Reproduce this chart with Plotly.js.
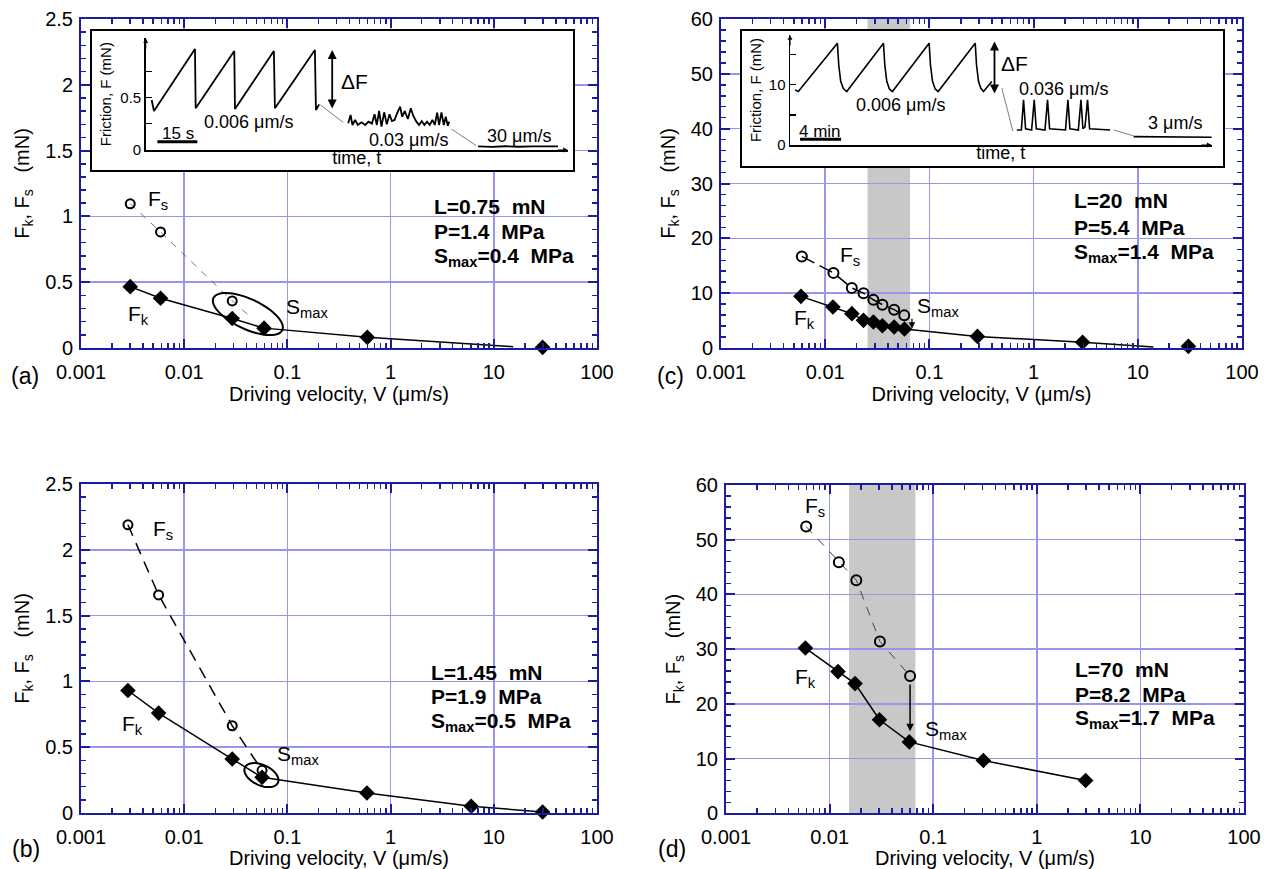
<!DOCTYPE html>
<html><head><meta charset="utf-8">
<script src="https://cdn.plot.ly/plotly-3.0.1.min.js"></script>
<style>html,body{margin:0;padding:0;background:#fff}#chart{width:1279px;height:869px}</style>
</head><body><div id="chart"></div>
<script>
// ================= DATA =================
// x tick labels
const xTickVals = [0.001, 0.01, 0.1, 1, 10, 100];
const xTickText = ['0.001', '0.01', '0.1', '1', '10', '100'];

// Panel (a)  L=0.75 mN
const aV_k = [0.003, 0.0059, 0.0292, 0.0594, 0.595, 29.7];
const aF_k = [0.466, 0.378, 0.224, 0.151, 0.081, 0.005];
const aLineV_k = [0.003, 0.0059, 0.0292, 0.0594, 0.595, 15.4];
const aLineF_k = [0.466, 0.378, 0.224, 0.151, 0.081, 0.01];
const aV_s = [0.003, 0.0059, 0.0292];
const aF_s = [1.096, 0.882, 0.358];
const aLineV_s = [0.003, 0.0059, 0.0292, 0.041];
const aLineF_s = [1.096, 0.882, 0.358, 0.257];

// Panel (b)  L=1.45 mN
const bV_k = [0.00285, 0.00565, 0.0292, 0.0568, 0.59, 6.04, 29.7];
const bF_k = [0.931, 0.759, 0.41, 0.271, 0.152, 0.051, 0.008];
const bV_s = [0.00285, 0.00565, 0.0292, 0.0568];
const bF_s = [2.19, 1.657, 0.663, 0.324];

// Panel (c)  L=20 mN
const cV_k = [0.00585, 0.01187, 0.01803, 0.0233, 0.029, 0.0354, 0.0459, 0.0576, 0.289, 2.95, 30.6];
const cF_k = [9.42, 7.48, 6.26, 5.04, 4.74, 4.07, 3.83, 3.47, 2.12, 1.04, 0.3];
const cLineV_k = [0.00585, 0.01187, 0.01803, 0.0233, 0.029, 0.0354, 0.0459, 0.0576, 0.289, 2.95, 14.1];
const cLineF_k = [9.42, 7.48, 6.26, 5.04, 4.74, 4.07, 3.83, 3.47, 2.12, 1.04, 0.2];
const cV_s = [0.00597, 0.012, 0.018, 0.0233, 0.029, 0.0354, 0.0459, 0.0574];
const cF_s = [16.7, 13.7, 10.95, 10.0, 8.8, 7.9, 6.99, 5.95];
const cBand = [0.0255, 0.0653];
const cArrowV = 0.068, cArrowFrom = 5.6, cArrowTo = 3.5;

// Panel (d)  L=70 mN
const dV_k = [0.00584, 0.01205, 0.0176, 0.0303, 0.0588, 0.305, 2.96];
const dF_k = [30.2, 25.9, 23.7, 17.1, 13.05, 9.65, 6.0];
const dV_s = [0.00594, 0.01228, 0.0181, 0.0306, 0.0598];
const dF_s = [52.4, 45.9, 42.6, 31.4, 25.1];
const dBand = [0.0154, 0.0673];
const dArrowV = 0.0598, dArrowFrom = 23.8, dArrowTo = 15.0;

// Parameter text per panel: [L, P, Smax]
const paramL = ['0.75', '1.45', '20', '70'];
const paramP = ['1.4', '1.9', '5.4', '8.2'];
const paramS = ['0.4', '0.5', '1.4', '1.7'];

// Inset of (a): friction trace, time in s, F in mN
const insAT = [2.25, 3.1, 18.5, 18.75, 33.25, 33.5, 48.1, 48.5, 63.5, 63.9, 65.1, null,
  76.0, 76.9, 77.6, 78.6, 79.6, 81.0, 82.4, 83.6, 84.9, 85.9, 86.75, 87.6, 88.5, 89.5, 90.5, 91.5, 92.4, 93.4,
  94.5, 95.5, 96.25, 97.25, 98.4, 99.5, 100.4, 101.6, 102.6, 103.6, 104.6, 105.6, 106.6, 107.6, 108.5, 109.4,
  110.1, 111.0, 111.9, 112.6, 113.4, 113.9, null,
  124.75, 130, 135, 140, 145, 150, 154.75];
const insAF = [0.478, 0.373, 0.965, 0.398, 0.946, 0.392, 0.946, 0.398, 0.955, 0.382, 0.436, null,
  0.255, 0.334, 0.239, 0.287, 0.239, 0.264, 0.239, 0.271, 0.252, 0.341, 0.239, 0.373, 0.223, 0.360, 0.245, 0.341, 0.277, 0.287,
  0.360, 0.414, 0.318, 0.373, 0.296, 0.398, 0.328, 0.271, 0.239, 0.277, 0.239, 0.271, 0.239, 0.287, 0.239, 0.357,
  0.239, 0.360, 0.239, 0.318, 0.232, 0.271, null,
  0.035, 0.030, 0.036, 0.031, 0.035, 0.032, 0.034];
const insALinkT = [65.6, 74.1, null, 114.75, 124.1];
const insALinkF = [0.43, 0.264, null, 0.20, 0.041];

// Inset of (c): friction trace, time in min, F in mN
const insCT = [0.49, 0.81, 4.62, 4.75, 4.94, 5.2, 5.53, 9.11, 9.24, 9.43, 9.69, 9.98, 13.56, 13.69, 13.89, 14.15, 14.44,
  18.05, 18.18, 18.37, 18.6, 18.86, 19.67, null,
  22.11, 22.55, 22.76, 22.96, 23.55, 23.8, 24.0, 24.85, 25.1, 25.3, 26.85, 27.09, 27.28, 28.1, 28.36, 28.55, 28.75, 29.0, 29.2, 29.9, 31.2, null,
  33.5, 36, 38, 40, 41.3];
const insCF = [9.17, 8.89, 16.94, 13.3, 10.6, 9.4, 8.89, 16.94, 13.3, 10.6, 9.33, 8.89, 16.94, 13.3, 10.6, 9.33, 8.89,
  16.94, 13.3, 10.6, 9.44, 8.89, 10.56, null,
  2.5, 2.5, 7.5, 2.7, 2.5, 7.5, 2.7, 2.5, 7.5, 2.7, 2.5, 7.5, 2.7, 2.5, 7.5, 2.7, 3.0, 7.5, 2.7, 2.6, 2.5, null,
  1.39, 1.35, 1.33, 1.30, 1.28];
const insCLinkT = [20.65, 21.72, null, 31.54, 33.5];
const insCLinkF = [9.44, 2.33, null, 2.5, 1.5];

// ================= STYLE / LAYOUT =================
const W = 1279, H = 869;
const FONT = 'Liberation Sans, Arial, Helvetica, sans-serif';
const GRID = 'rgb(150,150,236)';
const FRAME = 'rgb(28,28,160)';
const dx = (l, r) => [l / W, r / W];
const dy = (t, b) => [1 - b / H, 1 - t / H];

const minorVals = [];
for (let e = -3; e < 2; e++) for (let k = 2; k <= 9; k++) minorVals.push(k * Math.pow(10, e));

function xLog(domain, anchor) {
  return {
    type: 'log', domain, anchor, range: [-3, 2], tickmode: 'array', tickvals: xTickVals, ticktext: xTickText,
    ticks: 'inside', ticklen: 9, tickwidth: 2, tickcolor: FRAME,
    showline: true, linecolor: FRAME, linewidth: 2, mirror: 'ticks',
    showgrid: true, gridcolor: GRID, gridwidth: 1.5, zeroline: false,
    tickfont: { family: FONT, size: 20, color: '#000' }, ticklabelstandoff: 5,
    minor: { tickmode: 'array', tickvals: minorVals, ticks: 'inside', ticklen: 5, tickwidth: 1.5, tickcolor: FRAME, showgrid: false },
    title: { text: 'Driving velocity, V (\u03bcm/s)', font: { family: FONT, size: 20, color: '#000' }, standoff: 3 }
  };
}
function yLin(domain, anchor, max, dt, mdt) {
  return {
    domain, anchor, range: [0, max], tick0: 0, dtick: dt,
    ticks: 'inside', ticklen: 9, tickwidth: 2, tickcolor: FRAME,
    showline: true, linecolor: FRAME, linewidth: 2, mirror: 'ticks',
    showgrid: true, gridcolor: GRID, gridwidth: 1.5, zeroline: false,
    tickfont: { family: FONT, size: 20, color: '#000' }, ticklabelstandoff: 2,
    minor: { dtick: mdt, tick0: 0, ticks: 'inside', ticklen: 5, tickwidth: 1.5, tickcolor: FRAME, showgrid: false },
    title: { text: 'F<sub>k</sub>, F<sub>s</sub>\u00a0\u00a0 (mN)', font: { family: FONT, size: 20, color: '#000' }, standoff: 10 }
  };
}
function frameAx(domain, anchor) {
  return { domain, anchor, range: [0, 1], showline: true, mirror: true, linecolor: '#000', linewidth: 2,
    showgrid: false, zeroline: false, ticks: '', showticklabels: false, fixedrange: true };
}

const layout = {
  width: W, height: H, margin: { l: 0, r: 0, t: 0, b: 0 },
  paper_bgcolor: '#fff', plot_bgcolor: '#fff', showlegend: false,
  font: { family: FONT, color: '#000' },
  xaxis: xLog(dx(81, 597), 'y'), yaxis: yLin(dy(19, 348), 'x', 2.5, 0.5, 0.1),
  xaxis2: xLog(dx(81, 597), 'y2'), yaxis2: yLin(dy(484, 813), 'x2', 2.5, 0.5, 0.1),
  xaxis3: xLog(dx(721, 1242), 'y3'), yaxis3: yLin(dy(19, 348), 'x3', 60, 10, 2),
  xaxis4: xLog(dx(726, 1244), 'y4'), yaxis4: yLin(dy(485, 813.3), 'x4', 60, 10, 2),
  // inset (a) frame + axes
  xaxis5: frameAx(dx(91.7, 573), 'y5'), yaxis5: frameAx(dy(31, 170), 'x5'),
  xaxis6: {
    domain: dx(145.7, 568), anchor: 'y6', range: [0, 158.5], showline: true, linecolor: '#000', linewidth: 1.5,
    showgrid: false, zeroline: false, ticks: '', showticklabels: false,
    title: { text: 'time, t', font: { family: FONT, size: 18, color: '#000' }, standoff: 1 }
  },
  yaxis6: {
    domain: dy(38.3, 150), anchor: 'x6', range: [0, 1.067], showline: true, linecolor: '#000', linewidth: 1.5,
    showgrid: false, zeroline: false, ticks: 'inside', ticklen: 6, tickwidth: 1.2, tickcolor: '#000',
    tickmode: 'array', tickvals: [0, 0.25, 0.5, 0.75], ticktext: ['0', '', '0.5', ''],
    tickfont: { family: FONT, size: 15, color: '#000' },
    title: { text: 'Friction, F (mN)', font: { family: FONT, size: 15, color: '#000' }, standoff: 5 }
  },
  // inset (c) frame + axes
  xaxis7: frameAx(dx(741.7, 1222.7), 'y7'), yaxis7: frameAx(dy(31, 166), 'x7'),
  xaxis8: {
    domain: dx(790, 1211.7), anchor: 'y8', range: [0, 41.1], showline: true, linecolor: '#000', linewidth: 1.5,
    showgrid: false, zeroline: false, ticks: '', showticklabels: false,
    title: { text: 'time, t', font: { family: FONT, size: 18, color: '#000' }, standoff: 1 }
  },
  yaxis8: {
    domain: dy(35, 145), anchor: 'x8', range: [0, 18.3], showline: true, linecolor: '#000', linewidth: 1.5,
    showgrid: false, zeroline: false, ticks: 'inside', ticklen: 6, tickwidth: 1.2, tickcolor: '#000',
    tickmode: 'array', tickvals: [0, 5, 10, 15], ticktext: ['0', '', '10', ''],
    tickfont: { family: FONT, size: 15, color: '#000' },
    title: { text: 'Friction, F (mN)', font: { family: FONT, size: 15, color: '#000' }, standoff: 3 }
  },
  shapes: [], annotations: []
};

// ---- shapes ----
function ellipsePath(a, b, deg) {
  const th = deg * Math.PI / 180, pts = [];
  for (let i = 0; i < 60; i++) {
    const t = 2 * Math.PI * i / 60;
    const ex = a * Math.cos(t), ey = b * Math.sin(t);
    const X = ex * Math.cos(th) - ey * Math.sin(th);
    const Y = ex * Math.sin(th) + ey * Math.cos(th);
    pts.push((i ? 'L' : 'M') + X.toFixed(2) + ',' + Y.toFixed(2));
  }
  return pts.join(' ') + ' Z';
}
layout.shapes.push(
  { type: 'rect', xref: 'x3', yref: 'y3 domain', x0: cBand[0], x1: cBand[1], y0: 0, y1: 1, fillcolor: 'rgb(200,200,200)', line: { width: 0 }, layer: 'below' },
  { type: 'rect', xref: 'x4', yref: 'y4 domain', x0: dBand[0], x1: dBand[1], y0: 0, y1: 1, fillcolor: 'rgb(200,200,200)', line: { width: 0 }, layer: 'below' },
  { type: 'path', xref: 'x', yref: 'y', xsizemode: 'pixel', ysizemode: 'pixel', xanchor: 0.0414, yanchor: 0.258,
    path: ellipsePath(38, 15, -25), line: { color: '#000', width: 2 } },
  { type: 'path', xref: 'x2', yref: 'y2', xsizemode: 'pixel', ysizemode: 'pixel', xanchor: 0.056, yanchor: 0.288,
    path: ellipsePath(18.2, 10.2, -25), line: { color: '#000', width: 2 } },
  // scale bars in insets
  { type: 'line', xref: 'x6', yref: 'y6', x0: 4.4, x1: 19.4, y0: 0.08, y1: 0.08, line: { color: '#000', width: 3 } },
  { type: 'line', xref: 'x8', yref: 'y8', x0: 0.98, x1: 4.98, y0: 0.94, y1: 0.94, line: { color: '#000', width: 3 } }
);

// ---- annotations ----
const L = Math.log10;
function txt(xref, yref, x, y, text, size, opts) {
  return Object.assign({ xref, yref, x, y, text, showarrow: false, xanchor: 'left', yanchor: 'middle',
    font: { family: FONT, size, color: '#000' } }, opts || {});
}
const A = layout.annotations;
// panel letters
[['(a)', 25.5, 376], ['(b)', 26, 849], ['(c)', 670, 376], ['(d)', 672, 849]].forEach(p =>
  A.push(txt('paper', 'paper', p[1] / W, 1 - p[2] / H, p[0], 23, { xanchor: 'center' })));
// series labels
const lab = [
  ['x', 'y', 0.0043, 1.127, 'F<sub>s</sub>'], ['x', 'y', 0.00275, 0.252, 'F<sub>k</sub>'], ['x', 'y', 0.0937, 0.302, 'S<sub>max</sub>'],
  ['x2', 'y2', 0.00475, 2.15, 'F<sub>s</sub>'], ['x2', 'y2', 0.0024, 0.67, 'F<sub>k</sub>'], ['x2', 'y2', 0.0759, 0.443, 'S<sub>max</sub>'],
  ['x3', 'y3', 0.0133, 16.7, 'F<sub>s</sub>'], ['x3', 'y3', 0.0048, 5.2, 'F<sub>k</sub>'], ['x3', 'y3', 0.073, 7.5, 'S<sub>max</sub>'],
  ['x4', 'y4', 0.00558, 55.9, 'F<sub>s</sub>'], ['x4', 'y4', 0.00446, 24.7, 'F<sub>k</sub>'], ['x4', 'y4', 0.0805, 15.3, 'S<sub>max</sub>']
];
lab.forEach(l => A.push(txt(l[0], l[1], L(l[2]), l[3], l[4], 21)));
// parameter boxes: one annotation per line
const sp = '\u00a0\u00a0';
const boxPos = [
  ['x', 'y', 2.5, [1.076, 0.887, 0.69]],
  ['x2', 'y2', 2.33, [1.068, 0.886, 0.691]],
  ['x3', 'y3', 2.33, [26.9, 22.0, 17.3]],
  ['x4', 'y4', 2.25, [26.3, 21.7, 17.2]]
];
boxPos.forEach((b, i) => {
  const lines = ['L=' + paramL[i] + sp + 'mN', 'P=' + paramP[i] + sp + 'MPa', 'S<sub>max</sub>=' + paramS[i] + sp + 'MPa'];
  lines.forEach((t, j) => A.push(txt(b[0], b[1], L(b[2]), b[3][j], '<b>' + t + '</b>', 21)));
});
// S_max arrows in (c) and (d)
A.push({ xref: 'x3', yref: 'y3', axref: 'x3', ayref: 'y3', x: L(cArrowV), y: cArrowTo, ax: L(cArrowV), ay: cArrowFrom,
  text: '', showarrow: true, arrowhead: 2, arrowsize: 1, arrowwidth: 1.3, arrowcolor: '#000' });
A.push({ xref: 'x4', yref: 'y4', axref: 'x4', ayref: 'y4', x: L(dArrowV), y: dArrowTo, ax: L(dArrowV), ay: dArrowFrom,
  text: '', showarrow: true, arrowhead: 2, arrowsize: 1, arrowwidth: 1.5, arrowcolor: '#000' });
// inset (a) texts and arrows
A.push(txt('x6', 'y6', 38.5, 0.27, '0.006 \u03bcm/s', 18, { xanchor: 'center' }));
A.push(txt('x6', 'y6', 12, 0.16, '15 s', 17, { xanchor: 'center' }));
A.push(txt('x6', 'y6', 98.5, 0.096, '0.03 \u03bcm/s', 18, { xanchor: 'center' }));
A.push(txt('x6', 'y6', 140.1, 0.134, '30 \u03bcm/s', 18, { xanchor: 'center' }));
A.push(txt('x6', 'y6', 72.6, 0.653, '\u0394F', 21));
A.push({ xref: 'x6', yref: 'y6', axref: 'x6', ayref: 'y6', x: 70, y: 0.955, ax: 70, ay: 0.382, text: '', showarrow: true,
  arrowside: 'end+start', arrowhead: 2, arrowsize: 1, arrowwidth: 1.8, arrowcolor: '#000' });
A.push({ xref: 'x6', yref: 'y6', x: 158.5, y: 0, ax: -12, ay: 0, text: '', showarrow: true, arrowhead: 2, arrowsize: 0.8, arrowwidth: 1.2, arrowcolor: '#000' });
A.push({ xref: 'x6', yref: 'y6', x: 0, y: 1.067, ax: 0, ay: 12, text: '', showarrow: true, arrowhead: 2, arrowsize: 0.8, arrowwidth: 1.2, arrowcolor: '#000' });
// inset (c) texts and arrows
A.push(txt('x8', 'y8', 10.73, 6.67, '0.006 \u03bcm/s', 18, { xanchor: 'center' }));
A.push(txt('x8', 'y8', 2.93, 2.2, '4 min', 17, { xanchor: 'center' }));
A.push(txt('x8', 'y8', 26.7, 9.33, '0.036 \u03bcm/s', 18, { xanchor: 'center' }));
A.push(txt('x8', 'y8', 37.56, 3.6, '3 \u03bcm/s', 18, { xanchor: 'center' }));
A.push(txt('x8', 'y8', 20.4, 13.6, '\u0394F', 21));
A.push({ xref: 'x8', yref: 'y8', axref: 'x8', ayref: 'y8', x: 19.93, y: 17.2, ax: 19.93, ay: 8.33, text: '', showarrow: true,
  arrowside: 'end+start', arrowhead: 2, arrowsize: 1, arrowwidth: 1.8, arrowcolor: '#000' });
A.push({ xref: 'x8', yref: 'y8', x: 41.1, y: 0, ax: -12, ay: 0, text: '', showarrow: true, arrowhead: 2, arrowsize: 0.8, arrowwidth: 1.2, arrowcolor: '#000' });
A.push({ xref: 'x8', yref: 'y8', x: 0, y: 18.3, ax: 0, ay: 12, text: '', showarrow: true, arrowhead: 2, arrowsize: 0.8, arrowwidth: 1.2, arrowcolor: '#000' });

// ================= TRACES =================
const diamond = { symbol: 'diamond', size: 12, color: '#000' };
const openC = { symbol: 'circle-open', size: 9, color: '#000', line: { width: 2, color: '#000' } };
function tr(x, y, xa, ya, mode, extra) {
  return Object.assign({ x, y, xaxis: xa, yaxis: ya, mode, type: 'scatter', hoverinfo: 'skip', cliponaxis: false }, extra);
}
const data = [
  // (a)
  tr(aLineV_s, aLineF_s, 'x', 'y', 'lines', { line: { color: '#555', width: 0.8, dash: '7px,7px' } }),
  tr(aV_s, aF_s, 'x', 'y', 'markers', { marker: openC }),
  tr(aLineV_k, aLineF_k, 'x', 'y', 'lines', { line: { color: '#000', width: 1.5 } }),
  tr(aV_k, aF_k, 'x', 'y', 'markers', { marker: diamond }),
  // (b)
  tr(bV_s, bF_s, 'x2', 'y2', 'lines', { line: { color: '#000', width: 1.5, dash: '12px,8px' } }),
  tr(bV_s, bF_s, 'x2', 'y2', 'markers', { marker: openC }),
  tr(bV_k, bF_k, 'x2', 'y2', 'lines+markers', { line: { color: '#000', width: 1.5 }, marker: diamond }),
  // (c)
  tr(cV_s, cF_s, 'x3', 'y3', 'lines', { line: { color: '#000', width: 1.5, dash: '14px,6px' } }),
  tr(cV_s, cF_s, 'x3', 'y3', 'markers', { marker: Object.assign({}, openC, { size: 10 }) }),
  tr(cLineV_k, cLineF_k, 'x3', 'y3', 'lines', { line: { color: '#000', width: 1.5 } }),
  tr(cV_k, cF_k, 'x3', 'y3', 'markers', { marker: diamond }),
  // (d)
  tr(dV_s, dF_s, 'x4', 'y4', 'lines', { line: { color: '#444', width: 1, dash: '9px,8px' } }),
  tr(dV_s, dF_s, 'x4', 'y4', 'markers', { marker: Object.assign({}, openC, { size: 10 }) }),
  tr(dV_k, dF_k, 'x4', 'y4', 'lines+markers', { line: { color: '#000', width: 1.5 }, marker: diamond }),
  // inset frames (invisible anchors)
  tr([0.5], [0.5], 'x5', 'y5', 'markers', { marker: { opacity: 0 } }),
  tr([0.5], [0.5], 'x7', 'y7', 'markers', { marker: { opacity: 0 } }),
  // inset (a)
  tr(insALinkT, insALinkF, 'x6', 'y6', 'lines', { line: { color: '#444', width: 0.7 } }),
  tr(insAT, insAF, 'x6', 'y6', 'lines', { line: { color: '#000', width: 1.8 }, connectgaps: false }),
  // inset (c)
  tr(insCLinkT, insCLinkF, 'x8', 'y8', 'lines', { line: { color: '#444', width: 0.7 } }),
  tr(insCT, insCF, 'x8', 'y8', 'lines', { line: { color: '#000', width: 1.6 }, connectgaps: false })
];

Plotly.newPlot('chart', data, layout, { displayModeBar: false, staticPlot: true });
</script>
</body></html>
